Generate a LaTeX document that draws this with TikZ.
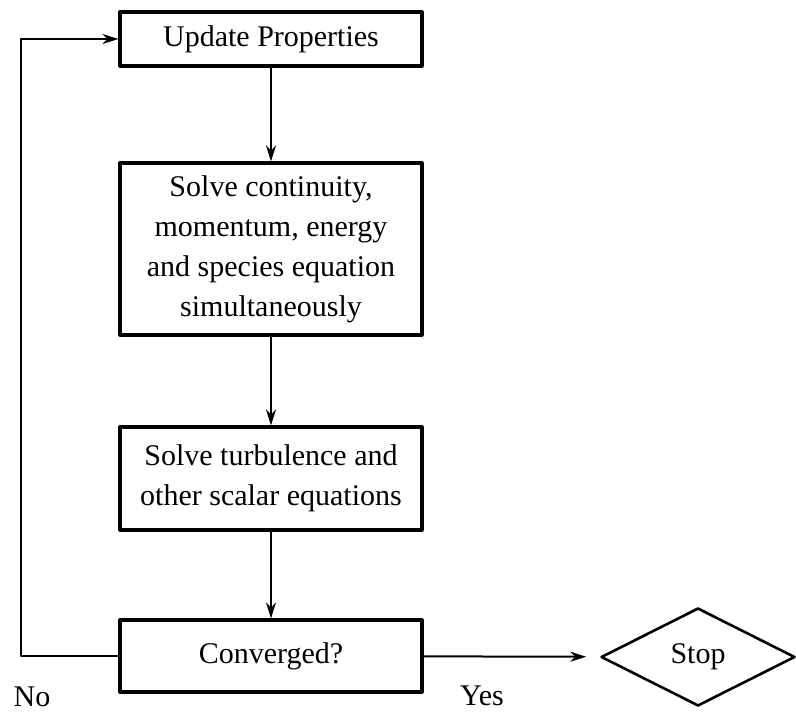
\documentclass[tikz,border=0pt]{standalone}
\usepackage{fontspec}
\setmainfont{Liberation Serif}
\usetikzlibrary{shapes.geometric,arrows.meta}
\begin{document}
\begin{tikzpicture}[x=0.5pt, y=-0.5pt, line cap=round, line join=round, font=\fontsize{15}{20}\selectfont, >={Stealth[length=8pt,width=5pt]}]
	\tikzset{box style/.style={draw, line width=1.6pt, minimum width=151pt, align=center, inner sep=0pt},
		link style/.style={->, line width=1pt}}
	\useasboundingbox (0,0) rectangle (796,715);
	\node[box style, minimum height=27pt] (upd) at (271,39) {Update Properties};
	\node[box style, minimum height=86pt] (solve) at (271,249) {Solve continuity,\\ momentum, energy\\ and species equation\\ simultaneously};
	\node[box style, minimum height=51.5pt] (turb) at (271,478.5) {Solve turbulence and\\ other scalar equations};
	\node[box style, minimum height=36pt] (conv) at (271,656) {Converged?};
	\node[draw, diamond, line width=1.3pt, minimum width=97pt, minimum height=49pt, inner sep=0pt] (stop) at (698,657) {Stop};
	\node (no) at (32,697) {No};
	\node (yes) at (482,696) {Yes};
	\draw[link style] (upd) -- (solve);
	\draw[link style] (solve) -- (turb);
	\draw[link style] (turb) -- (conv);
	\draw[link style] (conv.west) -- ++(-97,0) |- (upd.west);
	\draw[link style, shorten >=7pt] (conv) -- (stop);
\end{tikzpicture}
\end{document}
